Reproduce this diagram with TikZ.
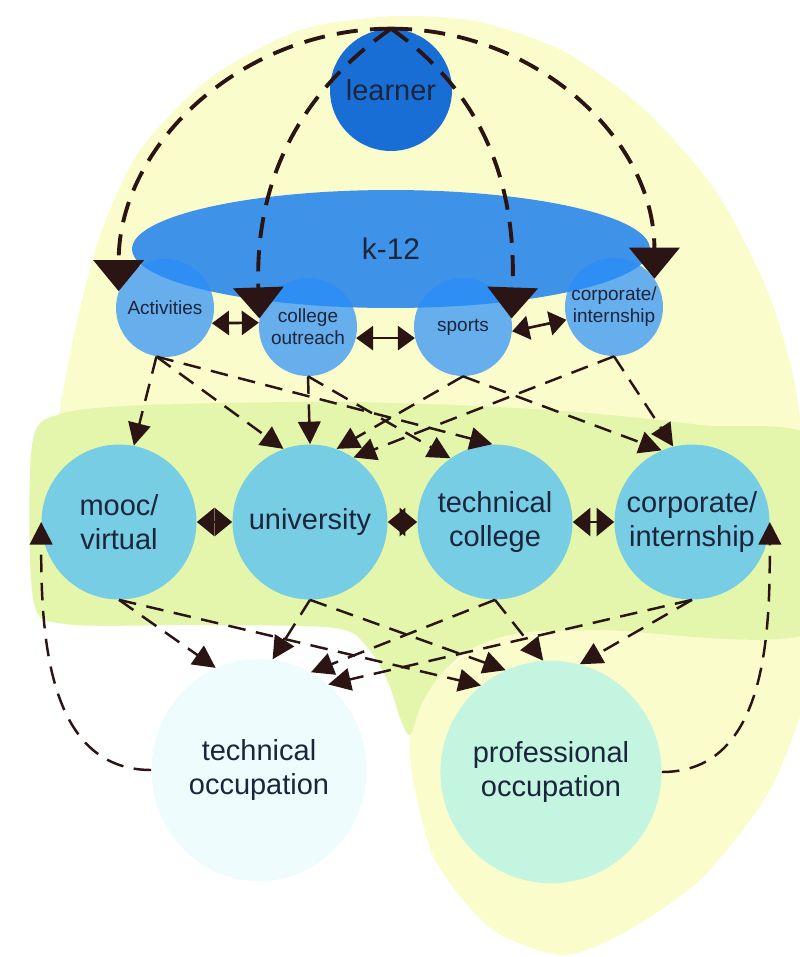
\documentclass[tikz,border=0pt]{standalone}
\usepackage{fontspec}
\setmainfont{Liberation Sans}
\usetikzlibrary{arrows.meta,shapes.geometric}
\definecolor{bgyellow}{RGB}{251,252,204}
\definecolor{bggreen}{RGB}{227,246,172}
\definecolor{learnblue}{RGB}{25,110,214}
\definecolor{kblue}{RGB}{62,146,232}
\definecolor{rowblue}{RGB}{40,141,250}
\definecolor{midblue}{RGB}{118,205,228}
\definecolor{techocc}{RGB}{238,252,253}
\definecolor{profocc}{RGB}{196,245,224}
\definecolor{ink}{RGB}{27,37,60}
\definecolor{arrowink}{RGB}{42,20,20}

\begin{document}
\begin{tikzpicture}[x=0.02cm,y=0.02cm,
    lbl/.style={text=ink,align=center,inner sep=0pt},
    bigtxt/.style={lbl,font=\fontsize{16.5}{19.5}\selectfont},
    smalltxt/.style={lbl,font=\fontsize{10.8}{12.6}\selectfont},
    rowa/.style={circle,fill=rowblue,fill opacity=0.7,text opacity=1,minimum size=1.96cm,smalltxt},
    rowb/.style={circle,fill=midblue,minimum size=3.1cm,bigtxt},
    occ/.style={ellipse,minimum width=4.3cm,minimum height=4.45cm,bigtxt},
    feed/.style={draw=arrowink,line width=2.2pt,dash pattern=on 12pt off 7pt,-{Triangle[length=0.62cm,width=1cm]}},
    flow/.style={draw=arrowink,line width=1.4pt,dash pattern=on 10pt off 6pt,-{Triangle[length=0.45cm,width=0.45cm]}},
    pair/.style={draw=arrowink,line width=1.5pt,{Triangle[length=0.34cm,width=0.48cm]}-{Triangle[length=0.34cm,width=0.48cm]}},
    pairb/.style={draw=arrowink,line width=1.5pt,{Triangle[length=0.35cm,width=0.56cm]}-{Triangle[length=0.35cm,width=0.56cm]}}]
    \useasboundingbox (0,0) rectangle (800,-957);
    \fill[bgyellow] plot[smooth cycle,tension=0.45] coordinates {(395,-16) (480,-22) (565,-52) (645,-110) (715,-190) (765,-285) (795,-385) (815,-560) (810,-680) (770,-790) (700,-880) (620,-935) (560,-955) (490,-928) (435,-860) (413,-780) (410,-735) (422,-703) (442,-673) (473,-648) (520,-600) (300,-520) (48,-490) (58,-420) (75,-330) (100,-235) (140,-150) (210,-78) (300,-30)};
    \fill[bggreen] plot[smooth cycle,tension=0.5] coordinates {(32,-445) (60,-414) (150,-405) (350,-402) (550,-410) (700,-425) (820,-445) (820,-628) (600,-630) (520,-633) (473,-648) (442,-673) (422,-703) (410,-735) (400,-718) (388,-682) (368,-648) (335,-628) (200,-625) (65,-624) (33,-598)};
    \node[circle,fill=learnblue,minimum size=2.44cm,bigtxt] (learner) at (391,-90) {learner};
    \node[ellipse,fill=kblue,minimum width=10.36cm,minimum height=2.36cm,bigtxt,font=\fontsize{17}{20}\selectfont] (kxii) at (391,-249) {k-12};
    \node[rowa] (act) at (165,-308) {Activities};
    \node[rowa] (coll) at (308,-327) {college\\outreach};
    \node[rowa] (sport) at (463,-327) {sports};
    \node[rowa] (corpa) at (614,-307) {corporate/\\internship};
    \node[rowb] (mooc) at (119,-522) {mooc/\\virtual};
    \node[rowb] (univ) at (310,-522) {university};
    \node[rowb] (tech) at (495,-522) {technical\\college};
    \node[rowb] (corpb) at (692,-522) {corporate/\\internship};
    \node[occ,fill=techocc] (tocc) at (259,-770) {technical\\occupation};
    \node[occ,fill=profocc] (pocc) at (551,-772) {professional\\occupation};
    \draw[feed] (learner.north) to[out=180,in=90] (act.160);
    \draw[feed] (learner.north) to[out=215,in=92] (coll.170);
    \draw[feed] (learner.north) to[out=-35,in=88] (sport.10);
    \draw[feed] (learner.north) to[out=0,in=90] (corpa.35);
    \draw[pair] (act.-18) -- (coll.175);
    \draw[pair] (coll.-13) -- (sport.193);
    \draw[pair] (sport.-5) -- (corpa.195);
    \draw[pairb] (mooc) -- (univ);
    \draw[pairb] (univ) -- (tech);
    \draw[pairb] (tech) -- (corpb);
    \draw[flow] (act.-100) -- (mooc.79);
    \draw[flow] (act.-100) -- (univ.110);
    \draw[flow] (act.-100) -- (tech.92);
    \draw[flow] (coll.south) -- (univ.north);
    \draw[flow] (coll.south) -- (tech.125);
    \draw[flow] (sport.south) -- (univ.70);
    \draw[flow] (sport.south) -- (corpb.113);
    \draw[flow] (corpa.south) -- (univ.56);
    \draw[flow] (corpa.south) -- (corpb.104);
    \draw[flow] (mooc.south) -- (tocc.113);
    \draw[flow] (mooc.south) -- (pocc.129);
    \draw[flow] (univ.south) -- (tocc.83);
    \draw[flow] (univ.south) -- (pocc.114);
    \draw[flow] (tech.south) -- (tocc.62);
    \draw[flow] (tech.south) -- (pocc.94);
    \draw[flow] (corpb.south) -- (tocc.51);
    \draw[flow] (corpb.south) -- (pocc.75);
    \draw[flow] (tocc.west) to[out=180,in=-90] (mooc.west);
    \draw[flow] (pocc.east) to[out=0,in=-90] (corpb.east);
\end{tikzpicture}
\end{document}
